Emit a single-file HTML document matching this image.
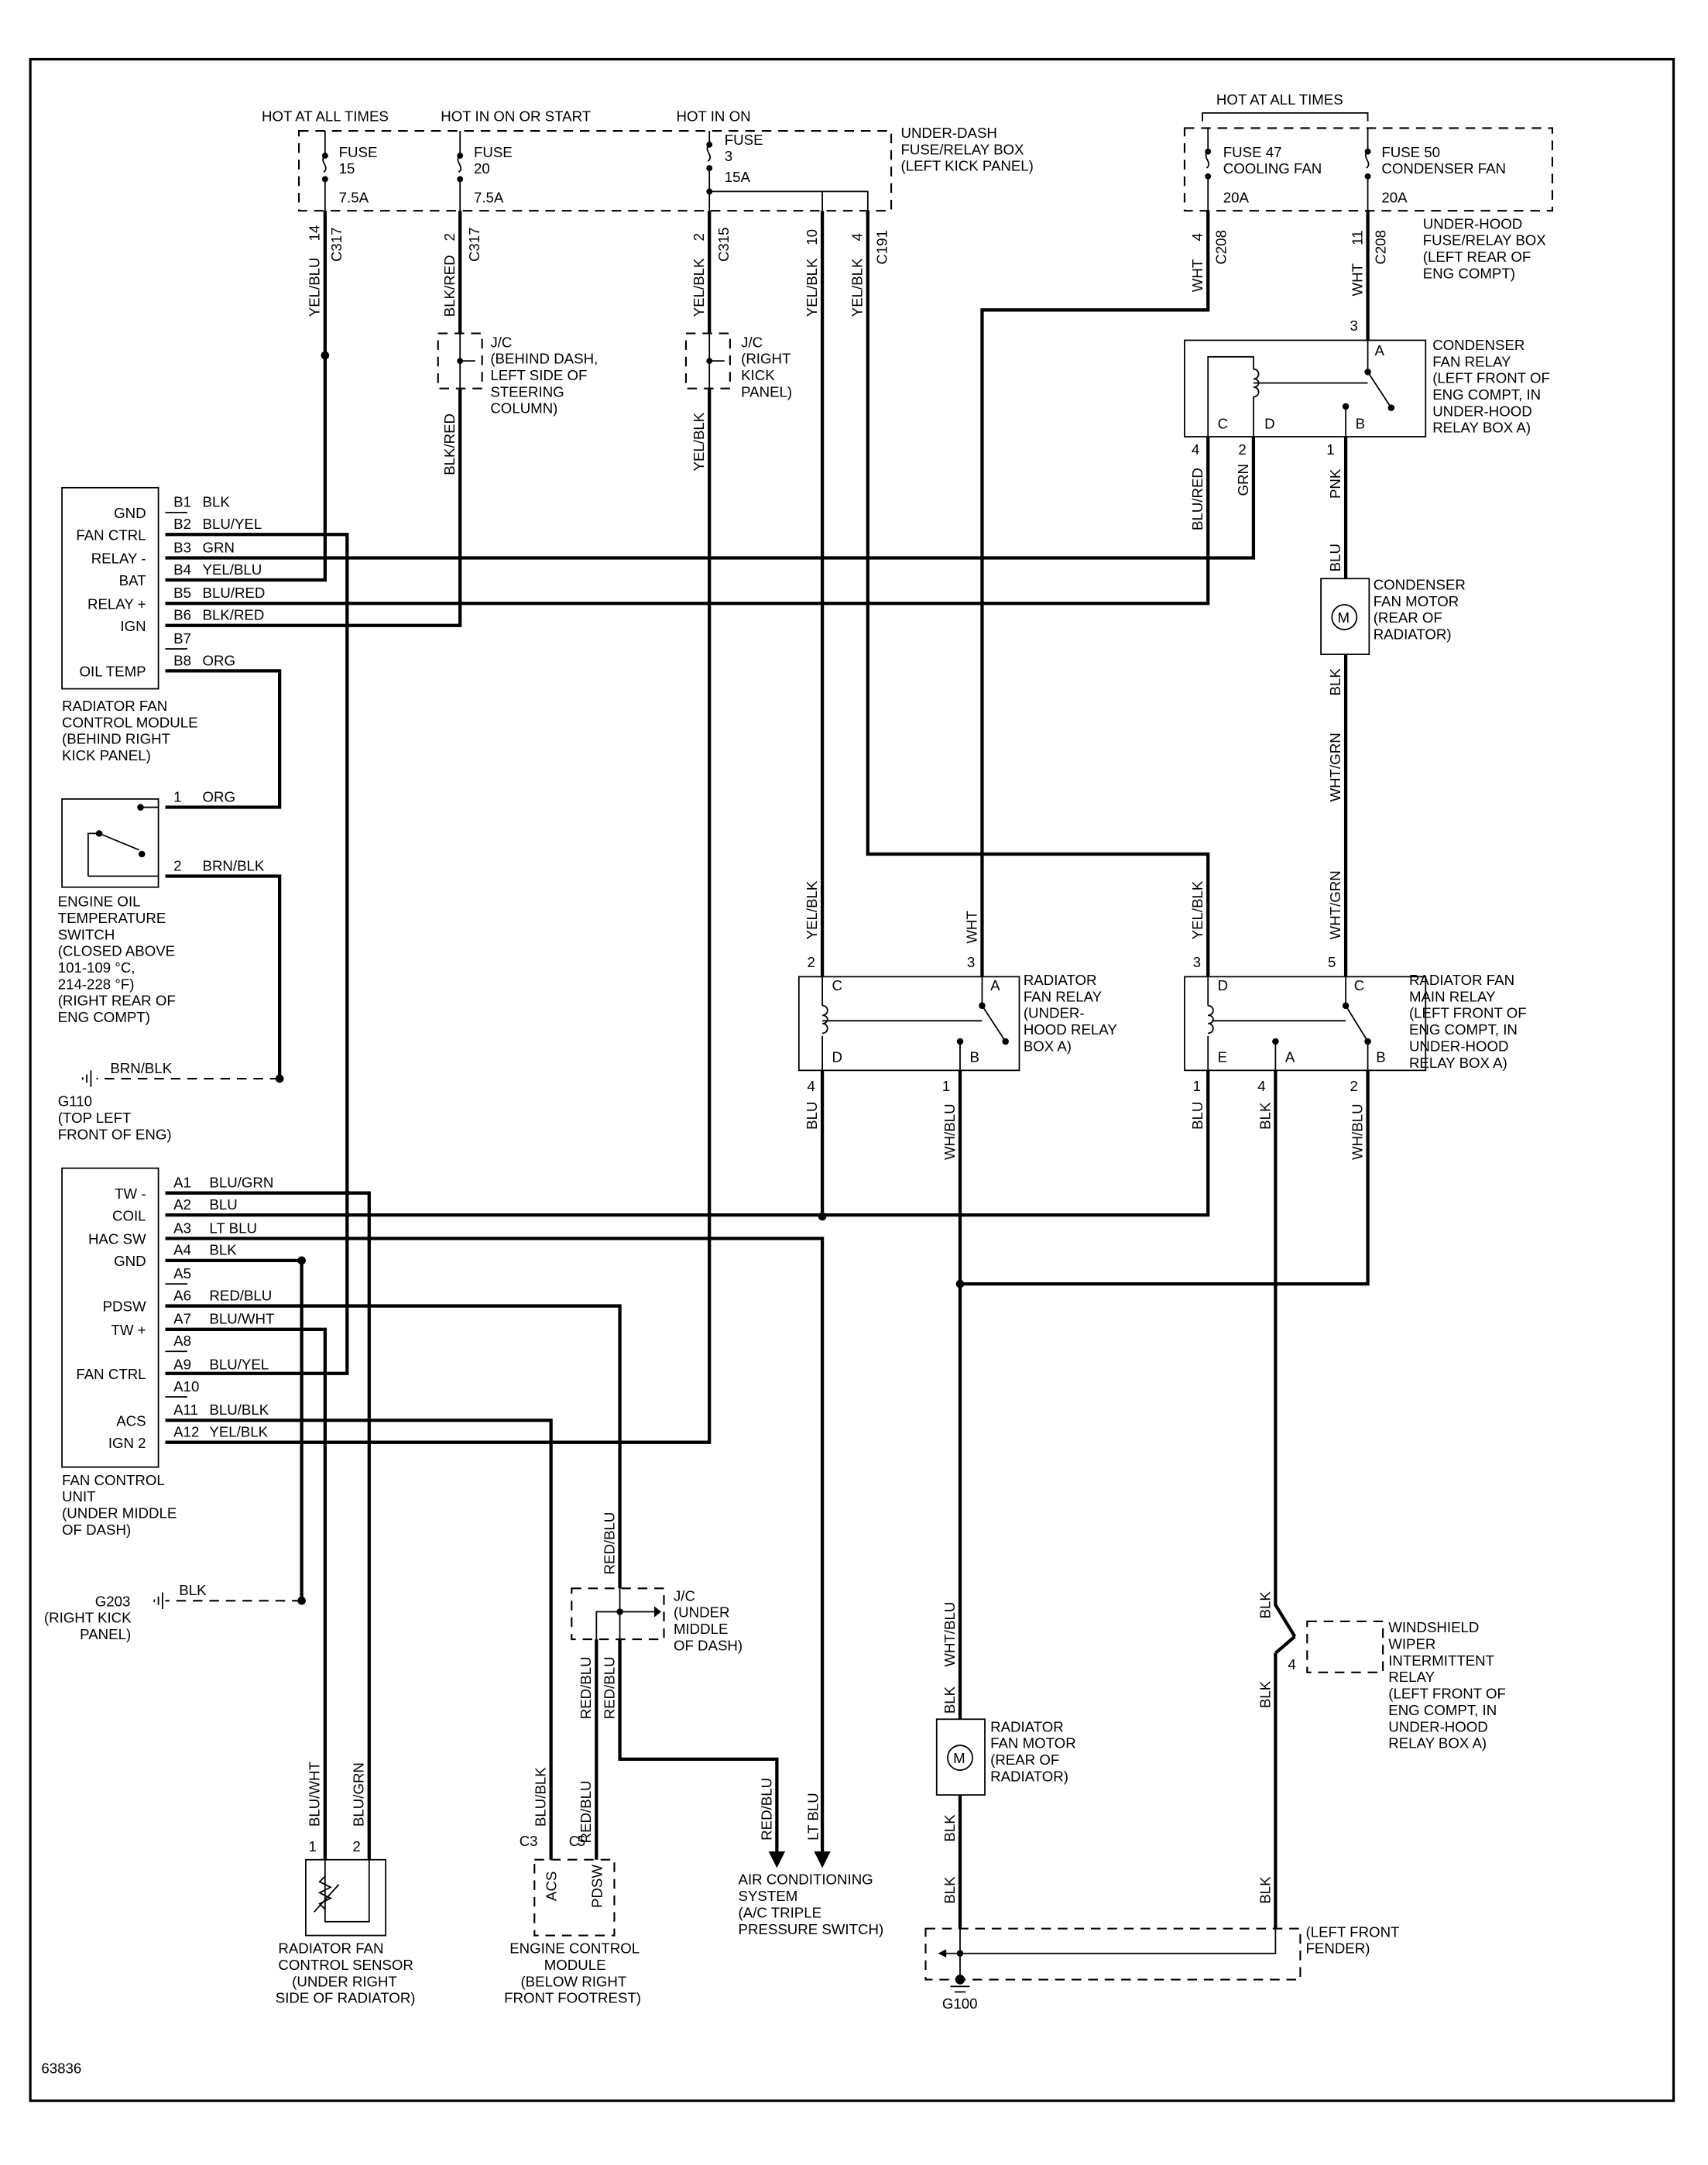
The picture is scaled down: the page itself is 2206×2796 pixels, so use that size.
<!DOCTYPE html>
<html><head><meta charset="utf-8"><style>
html,body{margin:0;padding:0;background:#fff;}
svg{display:block;}
text{font-family:"Liberation Sans",sans-serif;font-size:10.5px;fill:#000;}
.w{stroke:#000;stroke-width:2.4;fill:none;}
.t{stroke:#000;stroke-width:1;fill:none;}
.d{stroke:#000;stroke-width:1.2;fill:none;stroke-dasharray:7,5;}
</style></head><body>
<svg width="2206" height="2796" viewBox="0 0 1240 1571.6" xmlns="http://www.w3.org/2000/svg">
<rect x="0" y="0" width="1240" height="1572" fill="#fff"/>
<rect x="22" y="43" width="1193" height="1482" fill="none" stroke="#000" stroke-width="1.8"/>

<text x="190" y="88">HOT AT ALL TIMES</text>
<text x="320" y="88">HOT IN ON OR START</text>
<text x="491" y="88">HOT IN ON</text>
<rect x="217" y="95" width="430" height="58" class="d"/>
<text x="654" y="100">UNDER-DASH</text><text x="654" y="112">FUSE/RELAY BOX</text><text x="654" y="124">(LEFT KICK PANEL)</text>
<g class="t">
<path d="M236 95V113 M236 130V153 M236 113c-5 4 4 8 -1 12 M334 95V113 M334 130V153 M334 113c-5 4 4 8 -1 12 M515 95V105 M515 122V153 M515 105c-5 4 4 8 -1 12"/>
</g>
<g fill="#000"><circle cx="236" cy="113" r="2.2"/><circle cx="236" cy="130" r="2.2"/><circle cx="334" cy="113" r="2.2"/><circle cx="334" cy="130" r="2.2"/><circle cx="515" cy="105" r="2.2"/><circle cx="515" cy="122" r="2.2"/><circle cx="515" cy="139" r="2.2"/></g>
<text x="246" y="114">FUSE</text><text x="246" y="126">15</text><text x="246" y="147">7.5A</text>
<text x="344" y="114">FUSE</text><text x="344" y="126">20</text><text x="344" y="147">7.5A</text>
<text x="526" y="105">FUSE</text><text x="526" y="117">3</text><text x="526" y="132">15A</text>
<path class="t" d="M515 139H630V153"/>
<path class="t" d="M597 139V153"/>

<text x="883" y="76">HOT AT ALL TIMES</text>
<path class="t" d="M873 88V82H993V88"/>
<rect x="860" y="93" width="267" height="60" class="d"/>
<path class="t" d="M877 93V110 M877 128V153 M877 110c-5 4 4 8 -1 12 M993 93V110 M993 128V153 M993 110c-5 4 4 8 -1 12"/>
<g fill="#000"><circle cx="877" cy="110" r="2.2"/><circle cx="877" cy="128" r="2.2"/><circle cx="993" cy="110" r="2.2"/><circle cx="993" cy="128" r="2.2"/></g>
<text x="888" y="114">FUSE 47</text><text x="888" y="126">COOLING FAN</text><text x="888" y="147">20A</text>
<text x="1003" y="114">FUSE 50</text><text x="1003" y="126">CONDENSER FAN</text><text x="1003" y="147">20A</text>
<text x="1033" y="166">UNDER-HOOD</text><text x="1033" y="178">FUSE/RELAY BOX</text><text x="1033" y="190">(LEFT REAR OF</text><text x="1033" y="202">ENG COMPT)</text>

<g class="w">
<path d="M236 153V421H120"/>
<path d="M334 153V242 M334 282V454H120"/>
<path d="M515 153V242 M515 282V1047H120"/>
<path d="M597 153V709 M597 777V883"/>
<path d="M630 153V620H877V709"/>
<path d="M877 153V225H713V709"/>
<path d="M993 153V247"/>
<path d="M877 317V438H120"/>
<path d="M910 317V405H120"/>
<path d="M977 317V420 M977 475V709"/>
<path d="M120 388H252V997H120"/>
<path d="M120 487H203V586H120"/>
<path d="M120 636H203V783"/>
<path d="M120 882H877V777"/>
<path d="M120 899H597V1346"/>
<path d="M120 866H268V1350"/>
<path d="M120 965H236V1350"/>
<path d="M120 915H219V1162"/>
<path d="M120 948H450V1153"/>
<path d="M120 1031H400V1350"/>
<path d="M450 1190V1277H564V1346"/>
<path d="M433 1190V1350"/>
<path d="M697 777V1213 M697 1303V1400"/>
<path d="M993 777V932H697"/>
<path d="M926 777V1165L940 1188 M926 1200V1400"/>
</g>
<path class="t" d="M120 372H136 M120 471H136 M120 932H136 M120 981H136 M120 1014H136"/>
<g fill="#000">
<circle cx="236" cy="258" r="3"/><circle cx="203" cy="783" r="3"/><circle cx="219" cy="915" r="3"/><circle cx="219" cy="1162" r="3"/>
<circle cx="597" cy="883" r="3"/><circle cx="697" cy="932" r="3"/>
<path d="M558 1344h12l-6 12z M591 1344h12l-6 12z"/>
</g>
<path class="d" d="M203 783H70 M219 1162H120"/>
<path class="t" d="M66 777v12 M63 780v6 M60 782v2 M118 1156v12 M115 1159v6 M112 1161v2"/>
<text x="80" y="779">BRN/BLK</text>
<text x="42" y="803">G110</text><text x="42" y="815">(TOP LEFT</text><text x="42" y="827">FRONT OF ENG)</text>
<text x="130" y="1158">BLK</text>
<text x="69" y="1166">G203</text><text x="32" y="1178">(RIGHT KICK</text><text x="58" y="1190">PANEL)</text>

<g>
<text transform="translate(232,230) rotate(-90)">YEL/BLU</text><text transform="translate(232,175) rotate(-90)">14</text><text transform="translate(248,190) rotate(-90)">C317</text>
<text transform="translate(330,230) rotate(-90)">BLK/RED</text><text transform="translate(330,175) rotate(-90)">2</text><text transform="translate(348,190) rotate(-90)">C317</text>
<text transform="translate(330,345) rotate(-90)">BLK/RED</text>
<text transform="translate(511,230) rotate(-90)">YEL/BLK</text><text transform="translate(511,175) rotate(-90)">2</text><text transform="translate(529,190) rotate(-90)">C315</text>
<text transform="translate(511,342) rotate(-90)">YEL/BLK</text>
<text transform="translate(593,230) rotate(-90)">YEL/BLK</text><text transform="translate(593,178) rotate(-90)">10</text>
<text transform="translate(626,230) rotate(-90)">YEL/BLK</text><text transform="translate(626,175) rotate(-90)">4</text><text transform="translate(644,192) rotate(-90)">C191</text>
<text transform="translate(873,212) rotate(-90)">WHT</text><text transform="translate(873,175) rotate(-90)">4</text><text transform="translate(890,192) rotate(-90)">C208</text>
<text transform="translate(989,215) rotate(-90)">WHT</text><text transform="translate(989,178) rotate(-90)">11</text><text transform="translate(1006,192) rotate(-90)">C208</text>
<text transform="translate(873,385) rotate(-90)">BLU/RED</text>
<text transform="translate(906,360) rotate(-90)">GRN</text>
<text transform="translate(973,362) rotate(-90)">PNK</text>
<text transform="translate(973,415) rotate(-90)">BLU</text>
<text transform="translate(973,505) rotate(-90)">BLK</text>
<text transform="translate(973,582) rotate(-90)">WHT/GRN</text>
<text transform="translate(973,682) rotate(-90)">WHT/GRN</text>
<text transform="translate(593,682) rotate(-90)">YEL/BLK</text>
<text transform="translate(709,685) rotate(-90)">WHT</text>
<text transform="translate(873,682) rotate(-90)">YEL/BLK</text>
<text transform="translate(593,820) rotate(-90)">BLU</text>
<text transform="translate(693,842) rotate(-90)">WH/BLU</text>
<text transform="translate(873,820) rotate(-90)">BLU</text>
<text transform="translate(922,820) rotate(-90)">BLK</text>
<text transform="translate(989,842) rotate(-90)">WH/BLU</text>
<text transform="translate(693,1210) rotate(-90)">WHT/BLU</text>
<text transform="translate(693,1244) rotate(-90)">BLK</text>
<text transform="translate(693,1337) rotate(-90)">BLK</text>
<text transform="translate(693,1382) rotate(-90)">BLK</text>
<text transform="translate(922,1175) rotate(-90)">BLK</text>
<text transform="translate(922,1240) rotate(-90)">BLK</text>
<text transform="translate(922,1382) rotate(-90)">BLK</text>
<text transform="translate(232,1326) rotate(-90)">BLU/WHT</text>
<text transform="translate(264,1326) rotate(-90)">BLU/GRN</text>
<text transform="translate(396,1326) rotate(-90)">BLU/BLK</text>
<text transform="translate(429,1248) rotate(-90)">RED/BLU</text>
<text transform="translate(446,1248) rotate(-90)">RED/BLU</text>
<text transform="translate(429,1338) rotate(-90)">RED/BLU</text>
<text transform="translate(446,1143) rotate(-90)">RED/BLU</text>
<text transform="translate(560,1336) rotate(-90)">RED/BLU</text>
<text transform="translate(594,1336) rotate(-90)">LT BLU</text>
</g>

<rect x="318" y="242" width="32" height="40" class="d"/>
<path class="t" d="M334 242V282 M334 262H345"/><circle cx="334" cy="262" r="2.2"/>
<text x="356" y="252">J/C</text><text x="356" y="264">(BEHIND DASH,</text><text x="356" y="276">LEFT SIDE OF</text><text x="356" y="288">STEERING</text><text x="356" y="300">COLUMN)</text>
<rect x="498" y="242" width="32" height="40" class="d"/>
<path class="t" d="M515 242V282 M515 262H526"/><circle cx="515" cy="262" r="2.2"/>
<text x="538" y="252">J/C</text><text x="538" y="264">(RIGHT</text><text x="538" y="276">KICK</text><text x="538" y="288">PANEL)</text>
<rect x="415" y="1153" width="67" height="37" class="d"/>
<path class="t" d="M450 1153V1190 M433 1190V1170H476"/><circle cx="450" cy="1170" r="2.4"/>
<path d="M475 1166l5 4-5 4z"/>
<text x="489" y="1162">J/C</text><text x="489" y="1174">(UNDER</text><text x="489" y="1186">MIDDLE</text><text x="489" y="1198">OF DASH)</text>

<rect x="45" y="354" width="70" height="146" class="t"/>
<g text-anchor="end">
<text x="106" y="376">GND</text><text x="106" y="392">FAN CTRL</text><text x="106" y="409">RELAY -</text><text x="106" y="425">BAT</text><text x="106" y="442">RELAY +</text><text x="106" y="458">IGN</text><text x="106" y="491">OIL TEMP</text>
</g>
<g>
<text x="126" y="368">B1</text><text x="147" y="368">BLK</text>
<text x="126" y="384">B2</text><text x="147" y="384">BLU/YEL</text>
<text x="126" y="401">B3</text><text x="147" y="401">GRN</text>
<text x="126" y="417">B4</text><text x="147" y="417">YEL/BLU</text>
<text x="126" y="434">B5</text><text x="147" y="434">BLU/RED</text>
<text x="126" y="450">B6</text><text x="147" y="450">BLK/RED</text>
<text x="126" y="467">B7</text>
<text x="126" y="483">B8</text><text x="147" y="483">ORG</text>
</g>
<text x="45" y="516">RADIATOR FAN</text><text x="45" y="528">CONTROL MODULE</text><text x="45" y="540">(BEHIND RIGHT</text><text x="45" y="552">KICK PANEL)</text>

<rect x="45" y="580" width="70" height="64" class="t"/>
<path class="t" d="M64 636V605H72L101 617 M64 636H115 M102 586H115"/>
<g fill="#000"><circle cx="72" cy="605" r="2.4"/><circle cx="103" cy="620" r="2.4"/><circle cx="102" cy="586" r="2.4"/></g>
<text x="126" y="582">1</text><text x="147" y="582">ORG</text>
<text x="126" y="632">2</text><text x="147" y="632">BRN/BLK</text>
<text x="42" y="658">ENGINE OIL</text><text x="42" y="670">TEMPERATURE</text><text x="42" y="682">SWITCH</text><text x="42" y="694">(CLOSED ABOVE</text><text x="42" y="706">101-109    °C,</text><text x="42" y="718">214-228    °F)</text><text x="42" y="730">(RIGHT REAR OF</text><text x="42" y="742">ENG COMPT)</text>

<rect x="45" y="848" width="70" height="217" class="t"/>
<g text-anchor="end">
<text x="106" y="870">TW -</text><text x="106" y="886">COIL</text><text x="106" y="903">HAC SW</text><text x="106" y="919">GND</text><text x="106" y="952">PDSW</text><text x="106" y="969">TW +</text><text x="106" y="1001">FAN CTRL</text><text x="106" y="1035">ACS</text><text x="106" y="1051">IGN 2</text>
</g>
<g>
<text x="126" y="862">A1</text><text x="152" y="862">BLU/GRN</text>
<text x="126" y="878">A2</text><text x="152" y="878">BLU</text>
<text x="126" y="895">A3</text><text x="152" y="895">LT BLU</text>
<text x="126" y="911">A4</text><text x="152" y="911">BLK</text>
<text x="126" y="928">A5</text>
<text x="126" y="944">A6</text><text x="152" y="944">RED/BLU</text>
<text x="126" y="961">A7</text><text x="152" y="961">BLU/WHT</text>
<text x="126" y="977">A8</text>
<text x="126" y="994">A9</text><text x="152" y="994">BLU/YEL</text>
<text x="126" y="1010">A10</text>
<text x="126" y="1027">A11</text><text x="152" y="1027">BLU/BLK</text>
<text x="126" y="1043">A12</text><text x="152" y="1043">YEL/BLK</text>
</g>
<text x="45" y="1078">FAN CONTROL</text><text x="45" y="1090">UNIT</text><text x="45" y="1102">(UNDER MIDDLE</text><text x="45" y="1114">OF DASH)</text>

<rect x="860" y="247" width="175" height="70" class="t"/>
<path class="t" d="M877 317V259H910V268 M910 288V317 M977 317V295 M993 247V270L1010 296 M910 278H993"/>
<path class="t" d="M910 268c5 0 5 7 0 7c5 0 5 6 0 6c5 0 5 7 0 7"/>
<g fill="#000"><circle cx="993" cy="270" r="2.4"/><circle cx="977" cy="295" r="2.4"/><circle cx="1010" cy="296" r="2.4"/></g>
<text x="998" y="258">A</text><text x="884" y="311">C</text><text x="918" y="311">D</text><text x="984" y="311">B</text>
<text x="980" y="240">3</text><text x="865" y="330">4</text><text x="899" y="330">2</text><text x="963" y="330">1</text>
<text x="1040" y="254">CONDENSER</text><text x="1040" y="266">FAN RELAY</text><text x="1040" y="278">(LEFT FRONT OF</text><text x="1040" y="290">ENG COMPT, IN</text><text x="1040" y="302">UNDER-HOOD</text><text x="1040" y="314">RELAY BOX A)</text>

<rect x="959" y="420" width="35" height="55" class="t"/>
<circle cx="976" cy="448" r="9" class="t"/><text x="971" y="452">M</text>
<text x="997" y="428">CONDENSER</text><text x="997" y="440">FAN MOTOR</text><text x="997" y="452">(REAR OF</text><text x="997" y="464">RADIATOR)</text>

<rect x="580" y="709" width="160" height="68" class="t"/>
<path class="t" d="M597 709V730 M597 752V777 M697 777V756 M713 709V730L730 756 M597 741H713"/>
<path class="t" d="M597 730c5 0 5 7 0 7c5 0 5 6 0 6c5 0 5 7 0 7"/>
<g fill="#000"><circle cx="713" cy="730" r="2.4"/><circle cx="697" cy="756" r="2.4"/><circle cx="730" cy="756" r="2.4"/></g>
<text x="604" y="719">C</text><text x="719" y="719">A</text><text x="604" y="771">D</text><text x="704" y="771">B</text>
<text x="586" y="702">2</text><text x="702" y="702">3</text><text x="586" y="792">4</text><text x="684" y="792">1</text>
<text x="743" y="715">RADIATOR</text><text x="743" y="727">FAN RELAY</text><text x="743" y="739">(UNDER-</text><text x="743" y="751">HOOD RELAY</text><text x="743" y="763">BOX A)</text>

<rect x="860" y="709" width="175" height="68" class="t"/>
<path class="t" d="M877 709V730 M877 752V777 M926 777V756 M993 777V756 M977 709V730L993 756 M880 741H977"/>
<path class="t" d="M877 730c5 0 5 7 0 7c5 0 5 6 0 6c5 0 5 7 0 7"/>
<g fill="#000"><circle cx="977" cy="730" r="2.4"/><circle cx="926" cy="756" r="2.4"/><circle cx="993" cy="756" r="2.4"/></g>
<text x="884" y="719">D</text><text x="983" y="719">C</text><text x="884" y="771">E</text><text x="933" y="771">A</text><text x="999" y="771">B</text>
<text x="866" y="702">3</text><text x="964" y="702">5</text><text x="866" y="792">1</text><text x="913" y="792">4</text><text x="980" y="792">2</text>
<text x="1023" y="715">RADIATOR FAN</text><text x="1023" y="727">MAIN RELAY</text><text x="1023" y="739">(LEFT FRONT OF</text><text x="1023" y="751">ENG COMPT, IN</text><text x="1023" y="763">UNDER-HOOD</text><text x="1023" y="775">RELAY BOX A)</text>

<rect x="680" y="1248" width="35" height="55" class="t"/>
<circle cx="697" cy="1276" r="9" class="t"/><text x="692" y="1280">M</text>
<text x="719" y="1257">RADIATOR</text><text x="719" y="1269">FAN MOTOR</text><text x="719" y="1281">(REAR OF</text><text x="719" y="1293">RADIATOR)</text>
<path class="w" d="M697 1213V1248"/>

<rect x="949" y="1177" width="55" height="37" class="d"/>
<text x="935" y="1212">4</text>
<text x="1008" y="1185">WINDSHIELD</text><text x="1008" y="1197">WIPER</text><text x="1008" y="1209">INTERMITTENT</text><text x="1008" y="1221">RELAY</text><text x="1008" y="1233">(LEFT FRONT OF</text><text x="1008" y="1245">ENG COMPT, IN</text><text x="1008" y="1257">UNDER-HOOD</text><text x="1008" y="1269">RELAY BOX A)</text>
<path class="w" d="M940 1188L926 1200"/>

<rect x="672" y="1400" width="272" height="37" class="d"/>
<path class="t" d="M697 1400V1437 M683 1418H926V1400"/>
<path d="M681 1418l6-3v6z"/>
<circle cx="697" cy="1418" r="2.4"/><circle cx="697" cy="1437" r="3.5"/>
<path class="t" d="M690 1442h14 M693 1446h8"/>
<text x="948" y="1406">(LEFT FRONT</text><text x="948" y="1418">FENDER)</text>
<text x="684" y="1458">G100</text>

<rect x="222" y="1350" width="58" height="55" class="t"/>
<path class="t" d="M236 1350V1395H268V1350 M236 1362l-4 4 8 4 -8 4 8 4 -8 4 4 4 M228 1388L246 1368"/>
<text x="224" y="1344">1</text><text x="256" y="1344">2</text>
<text x="202" y="1418">RADIATOR FAN</text><text x="202" y="1430">CONTROL SENSOR</text><text x="212" y="1442">(UNDER RIGHT</text><text x="200" y="1454">SIDE OF RADIATOR)</text>

<rect x="388" y="1350" width="58" height="55" class="d"/>
<text transform="translate(404,1380) rotate(-90)">ACS</text>
<text transform="translate(437,1385) rotate(-90)">PDSW</text>
<text x="377" y="1340">C3</text><text x="413" y="1340" text-anchor="start" textLength="12">C5</text>
<text x="370" y="1418">ENGINE CONTROL</text><text x="395" y="1430">MODULE</text><text x="378" y="1442">(BELOW RIGHT</text><text x="366" y="1454">FRONT FOOTREST)</text>

<text x="536" y="1368">AIR CONDITIONING</text><text x="536" y="1380">SYSTEM</text><text x="536" y="1392">(A/C TRIPLE</text><text x="536" y="1404">PRESSURE SWITCH)</text>

<text x="30" y="1505">63836</text>
</svg>
</body></html>
